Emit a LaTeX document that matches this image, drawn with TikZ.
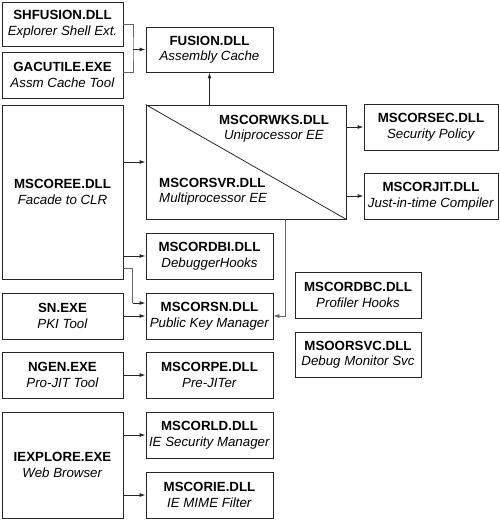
\documentclass[tikz,border=0pt]{standalone}
\usepackage{fontspec}
\setmainfont{Liberation Sans}
\usetikzlibrary{arrows.meta,calc}
\begin{document}
\begin{tikzpicture}[x=1bp,y=-1bp,
  box/.style={draw=black!85,line width=0.9bp,inner sep=0pt,align=center,
    font=\fontsize{13.3bp}{15.5bp}\selectfont},
  lbl/.style={inner sep=0pt,font=\fontsize{13.3bp}{15.5bp}\selectfont},
  conn/.style={draw=black!85,line width=0.9bp,-{Latex[length=6bp,width=4bp]}},
  thin/.style={draw=black!60,line width=0.6bp},
]
\useasboundingbox (0,0) rectangle (500,520);
\node[box,minimum width=121bp,minimum height=44bp] (shf) at (62.5,24) {\textbf{SHFUSION.DLL}\\\textit{Explorer Shell Ext.}};
\node[box,minimum width=121bp,minimum height=46bp] (gac) at (62.5,75) {\textbf{GACUTILE.EXE}\\\textit{Assm Cache Tool}};
\node[box,minimum width=127bp,minimum height=45bp] (fus) at (209.5,49.5) {\textbf{FUSION.DLL}\\\textit{Assembly Cache}};
\node[box,minimum width=121bp,minimum height=174bp] (ree) at (62.5,192) {\textbf{MSCOREE.DLL}\\\textit{Facade to CLR}};
\node[box,minimum width=200bp,minimum height=114bp] (wks) at (246,162) {};
\draw[draw=black!85,line width=0.8bp] (wks.north west) -- (wks.south east);
\node[lbl,align=center] (wkst) at (274,128.5) {\textbf{MSCORWKS.DLL}\\\textit{Uniprocessor EE}};
\node[lbl,align=left,anchor=west] (svrt) at (159,191.5) {\textbf{MSCORSVR.DLL}\\\textit{Multiprocessor EE}};
\node[box,minimum width=134bp,minimum height=46bp] (sec) at (431,127) {\textbf{MSCORSEC.DLL}\\\textit{Security Policy}};
\node[box,minimum width=134bp,minimum height=46bp] (jit) at (431,196) {\textbf{MSCORJIT.DLL}\\\textit{Just-in-time Compiler}};
\node[box,minimum width=127bp,minimum height=46bp] (dbi) at (209.5,256) {\textbf{MSCORDBI.DLL}\\\textit{DebuggerHooks}};
\node[box,minimum width=121bp,minimum height=46bp] (sn) at (62.5,316) {\textbf{SN.EXE}\\\textit{PKI Tool}};
\node[box,minimum width=127bp,minimum height=46bp] (rsn) at (209.5,316) {\textbf{MSCORSN.DLL}\\\textit{Public Key Manager}};
\node[box,minimum width=126bp,minimum height=46bp] (dbc) at (358,295) {\textbf{MSCORDBC.DLL}\\\textit{Profiler Hooks}};
\node[box,minimum width=126bp,minimum height=45bp] (svc) at (358,354.5) {\textbf{MSOORSVC.DLL}\\\textit{Debug Monitor Svc}};
\node[box,minimum width=121bp,minimum height=46bp] (ngen) at (62.5,375) {\textbf{NGEN.EXE}\\\textit{Pro-JIT Tool}};
\node[box,minimum width=127bp,minimum height=46bp] (pe) at (209.5,375) {\textbf{MSCORPE.DLL}\\\textit{Pre-JITer}};
\node[box,minimum width=121bp,minimum height=106bp] (iex) at (62.5,465) {\textbf{IEXPLORE.EXE}\\\textit{Web Browser}};
\node[box,minimum width=127bp,minimum height=46bp] (ld) at (209.5,435) {\textbf{MSCORLD.DLL}\\\textit{IE Security Manager}};
\node[box,minimum width=127bp,minimum height=46bp] (ie) at (209.5,495) {\textbf{MSCORIE.DLL}\\\textit{IE MIME Filter}};
% connectors
\coordinate (br) at (133,49.5);
\draw[thin] (shf.east) -| (br) |- ($(gac.east)+(0,-3)$);
\draw[conn] (br) -- (fus.west);
\draw[conn] (fus.south |- wks.north) -- (fus.south);
\draw[conn] (ree.east |- wks.west) -- (wks.west);
\draw[conn] (wks.east |- sec.west) -- (sec.west);
\draw[conn] (wks.east |- jit.west) -- (jit.west);
\draw[conn] (ree.east |- dbi.west) -- (dbi.west);
\coordinate (rb) at ($(ree.south east)+(0,-11)$);
\coordinate (rt) at ($(rsn.west)+(-13,-13)$);
\draw[thin] (rb) -| (rt);
\draw[conn] (rt) -- ($(rsn.west)+(0,-13)$);
\draw[conn] (sn.east) -- (rsn.west);
\coordinate (wk) at ($(wks.south)+(39,0)$);
\draw[thin,-{Latex[length=6bp,width=4bp]}] (wk) |- (rsn.east);
\draw[conn] (ngen.east) -- (pe.west);
\draw[conn] (iex.east |- ld.west) -- (ld.west);
\draw[conn] (iex.east |- ie.west) -- (ie.west);
\end{tikzpicture}
\end{document}
